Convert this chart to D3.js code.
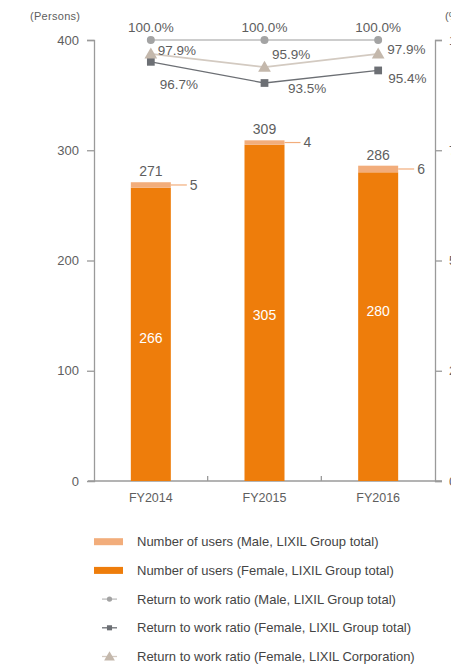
<!DOCTYPE html>
<html>
<head>
<meta charset="utf-8">
<script src="https://cdn.jsdelivr.net/npm/d3@7/dist/d3.min.js"></script>
<style>
  html, body { margin: 0; padding: 0; background: #fff; }
  svg { display: block; font-family: "Liberation Sans", Arial, sans-serif; }
</style>
</head>
<body>
<svg id="chart" width="451" height="665"></svg>
<script>
// Childcare leave: number of users and return-to-work ratio
const years = ["FY2014", "FY2015", "FY2016"];
const femaleUsers = [266, 305, 280];
const maleUsers = [5, 4, 6];
const totalUsers = [271, 309, 286];
const ratioMaleGroup = [100.0, 100.0, 100.0];
const ratioFemaleGroup = [96.7, 93.5, 95.4];
const ratioFemaleCorp = [97.9, 95.9, 97.9];
const leftTicks = [0, 100, 200, 300, 400];
const rightTicks = [0, 25, 50, 75, 100];

// label nudges (layout only)
const femaleLabelNudge = [4, 2, -16];
const squareLabelDx = [9, 23.5, 10];
const squareLabelDy = [22.5, 5, 7.5];
const triangleLabelDx = [7, 7.5, 9];
const triangleLabelDy = [-4, -13, -5];

const C = {
  female: "#EE7D0B",
  male: "#F2AD7B",
  axis: "#9a9a9a",
  text: "#5e5e5e",
  circle: "#a3a3a3",
  circleLine: "#bcbcbc",
  square: "#6c6f74",
  squareLine: "#6c6f74",
  tri: "#c4b8ac",
  triLine: "#d3cac1"
};

const svg = d3.select("#chart");
const plotL = 94, plotR = 435, plotT = 40, plotB = 481;

const x = d3.scaleBand().domain(years).range([plotL, plotR]).padding(0);
const y = d3.scaleLinear().domain([0, 400]).range([plotB, plotT]);
const yRatio = d3.scaleLinear().domain([93.5, 100]).range([83, 40]);
const yRight = d3.scaleLinear().domain([0, 100]).range([plotB, plotT]);
const barW = 40;
const cx = d => x(d) + x.bandwidth() / 2;

// left axis
const gL = svg.append("g").attr("transform", `translate(${plotL},0)`)
  .call(d3.axisLeft(y).tickValues(leftTicks).tickSize(7).tickPadding(8).tickFormat(d3.format("d")));
gL.select(".domain").attr("stroke", C.axis).attr("stroke-width", 1.3);
gL.selectAll(".tick line").attr("stroke", C.axis).attr("stroke-width", 1.3);
gL.selectAll(".tick text").attr("fill", C.text).style("font-size", "13px");
gL.selectAll(".tick").filter(d => d === 0).select("line").remove();

// right axis (labels run past the canvas edge)
const gR = svg.append("g").attr("transform", `translate(${plotR},0)`)
  .call(d3.axisRight(yRight).tickValues(rightTicks).tickSize(7).tickPadding(7));
gR.select(".domain").attr("stroke", C.axis).attr("stroke-width", 1.3);
gR.selectAll(".tick line").attr("stroke", C.axis).attr("stroke-width", 1.3);
gR.selectAll(".tick text").attr("fill", C.text).style("font-size", "13px");
svg.append("text").attr("x", 445).attr("y", 20).attr("fill", C.text)
  .style("font-size", "11px").text("(%)");

// x axis
svg.append("line").attr("x1", 88).attr("x2", plotR + 7)
  .attr("y1", plotB).attr("y2", plotB).attr("stroke", C.axis).attr("stroke-width", 1.3);
years.slice(1).forEach(yr => {
  svg.append("line").attr("x1", x(yr)).attr("x2", x(yr))
    .attr("y1", plotB).attr("y2", plotB - 5).attr("stroke", C.axis).attr("stroke-width", 1.3);
});
svg.append("g").selectAll("text").data(years).join("text")
  .attr("x", d => cx(d)).attr("y", plotB + 21).attr("text-anchor", "middle")
  .attr("fill", C.text).style("font-size", "12.5px").text(d => d);

// unit label
svg.append("text").attr("x", 80).attr("y", 20).attr("text-anchor", "end")
  .attr("fill", C.text).style("font-size", "11px").attr("textLength", 50).text("(Persons)");

// stacked bars
const bars = svg.append("g");
years.forEach((yr, i) => {
  const f = femaleUsers[i], m = maleUsers[i];
  bars.append("rect").attr("x", cx(yr) - barW / 2).attr("width", barW)
    .attr("y", y(f)).attr("height", y(0) - y(f)).attr("fill", C.female);
  bars.append("rect").attr("x", cx(yr) - barW / 2).attr("width", barW)
    .attr("y", y(f + m)).attr("height", y(f) - y(f + m)).attr("fill", C.male);
  // female value inside
  bars.append("text").attr("x", cx(yr)).attr("y", (y(0) + y(f)) / 2 + femaleLabelNudge[i])
    .attr("dy", "0.35em").attr("text-anchor", "middle").attr("fill", "#fff")
    .style("font-size", "14px").text(f);
  // total on top
  bars.append("text").attr("x", cx(yr)).attr("y", y(totalUsers[i]) - 6)
    .attr("text-anchor", "middle").attr("fill", C.text).style("font-size", "14px")
    .text(totalUsers[i]);
  // male leader line and value
  const my = (y(f) + y(f + m)) / 2;
  bars.append("line").attr("x1", cx(yr) + barW / 2).attr("x2", cx(yr) + barW / 2 + 16)
    .attr("y1", my).attr("y2", my).attr("stroke", C.male).attr("stroke-width", 1.2);
  bars.append("text").attr("x", cx(yr) + barW / 2 + 19).attr("y", my).attr("dy", "0.35em")
    .attr("fill", C.text).style("font-size", "14px").text(m);
});

// ratio lines
const line = d3.line().x((d, i) => cx(years[i])).y(d => yRatio(d));
svg.append("path").datum(ratioMaleGroup).attr("d", line).attr("fill", "none")
  .attr("stroke", C.circleLine).attr("stroke-width", 1.6);
svg.append("path").datum(ratioFemaleCorp).attr("d", line).attr("fill", "none")
  .attr("stroke", C.triLine).attr("stroke-width", 1.6);
svg.append("path").datum(ratioFemaleGroup).attr("d", line).attr("fill", "none")
  .attr("stroke", C.squareLine).attr("stroke-width", 1.3);

const triSym = d3.symbol().type(d3.symbolTriangle).size(70);
const sqSym = d3.symbol().type(d3.symbolSquare).size(60);
const ciSym = d3.symbol().type(d3.symbolCircle).size(50);

years.forEach((yr, i) => {
  const px = cx(yr);
  svg.append("path").attr("d", ciSym).attr("fill", C.circle)
    .attr("transform", `translate(${px},${yRatio(ratioMaleGroup[i])})`);
  svg.append("path").attr("d", sqSym).attr("fill", C.square)
    .attr("transform", `translate(${px},${yRatio(ratioFemaleGroup[i])})`);
  svg.append("path").attr("d", triSym).attr("fill", C.tri)
    .attr("transform", `translate(${px},${yRatio(ratioFemaleCorp[i]) + 1})`);

  svg.append("text").attr("x", px).attr("y", yRatio(ratioMaleGroup[i]) - 13).attr("dy", "0.35em")
    .attr("text-anchor", "middle").attr("fill", C.text).style("font-size", "13.5px")
    .text(ratioMaleGroup[i].toFixed(1) + "%");
  svg.append("text").attr("x", px + triangleLabelDx[i]).attr("y", yRatio(ratioFemaleCorp[i]) + triangleLabelDy[i])
    .attr("dy", "0.35em").attr("fill", C.text).style("font-size", "13.5px")
    .text(ratioFemaleCorp[i].toFixed(1) + "%");
  svg.append("text").attr("x", px + squareLabelDx[i]).attr("y", yRatio(ratioFemaleGroup[i]) + squareLabelDy[i])
    .attr("dy", "0.35em").attr("fill", C.text).style("font-size", "13.5px")
    .text(ratioFemaleGroup[i].toFixed(1) + "%");
});

// legend
const legendItems = [
  { label: "Number of users (Male, LIXIL Group total)", kind: "bar", color: C.male },
  { label: "Number of users (Female, LIXIL Group total)", kind: "bar", color: C.female },
  { label: "Return to work ratio (Male, LIXIL Group total)", kind: "circle" },
  { label: "Return to work ratio (Female, LIXIL Group total)", kind: "square" },
  { label: "Return to work ratio (Female, LIXIL Corporation)", kind: "triangle" }
];
const lg = svg.append("g");
legendItems.forEach((it, i) => {
  const ly = 541.7 + i * 28.7;
  const g = lg.append("g").attr("transform", `translate(0,${ly})`);
  if (it.kind === "bar") {
    g.append("rect").attr("x", 94).attr("y", -3.5).attr("width", 29).attr("height", 7).attr("fill", it.color);
  } else {
    const lc = it.kind === "circle" ? C.circleLine : it.kind === "square" ? C.squareLine : C.triLine;
    const mc = it.kind === "circle" ? C.circle : it.kind === "square" ? C.square : C.tri;
    const sym = it.kind === "circle" ? d3.symbol().type(d3.symbolCircle).size(22)
      : it.kind === "square" ? d3.symbol().type(d3.symbolSquare).size(26)
      : d3.symbol().type(d3.symbolTriangle).size(50);
    g.append("line").attr("x1", 102).attr("x2", 117).attr("y1", 0).attr("y2", 0)
      .attr("stroke", lc).attr("stroke-width", 1.3);
    g.append("path").attr("d", sym).attr("fill", mc).attr("transform", `translate(109.5,${it.kind === "triangle" ? 1 : 0})`);
  }
  g.append("text").attr("x", 137).attr("y", 0).attr("dy", "0.35em")
    .attr("fill", "#444").style("font-size", "13px").text(it.label);
});
</script>
</body>
</html>
